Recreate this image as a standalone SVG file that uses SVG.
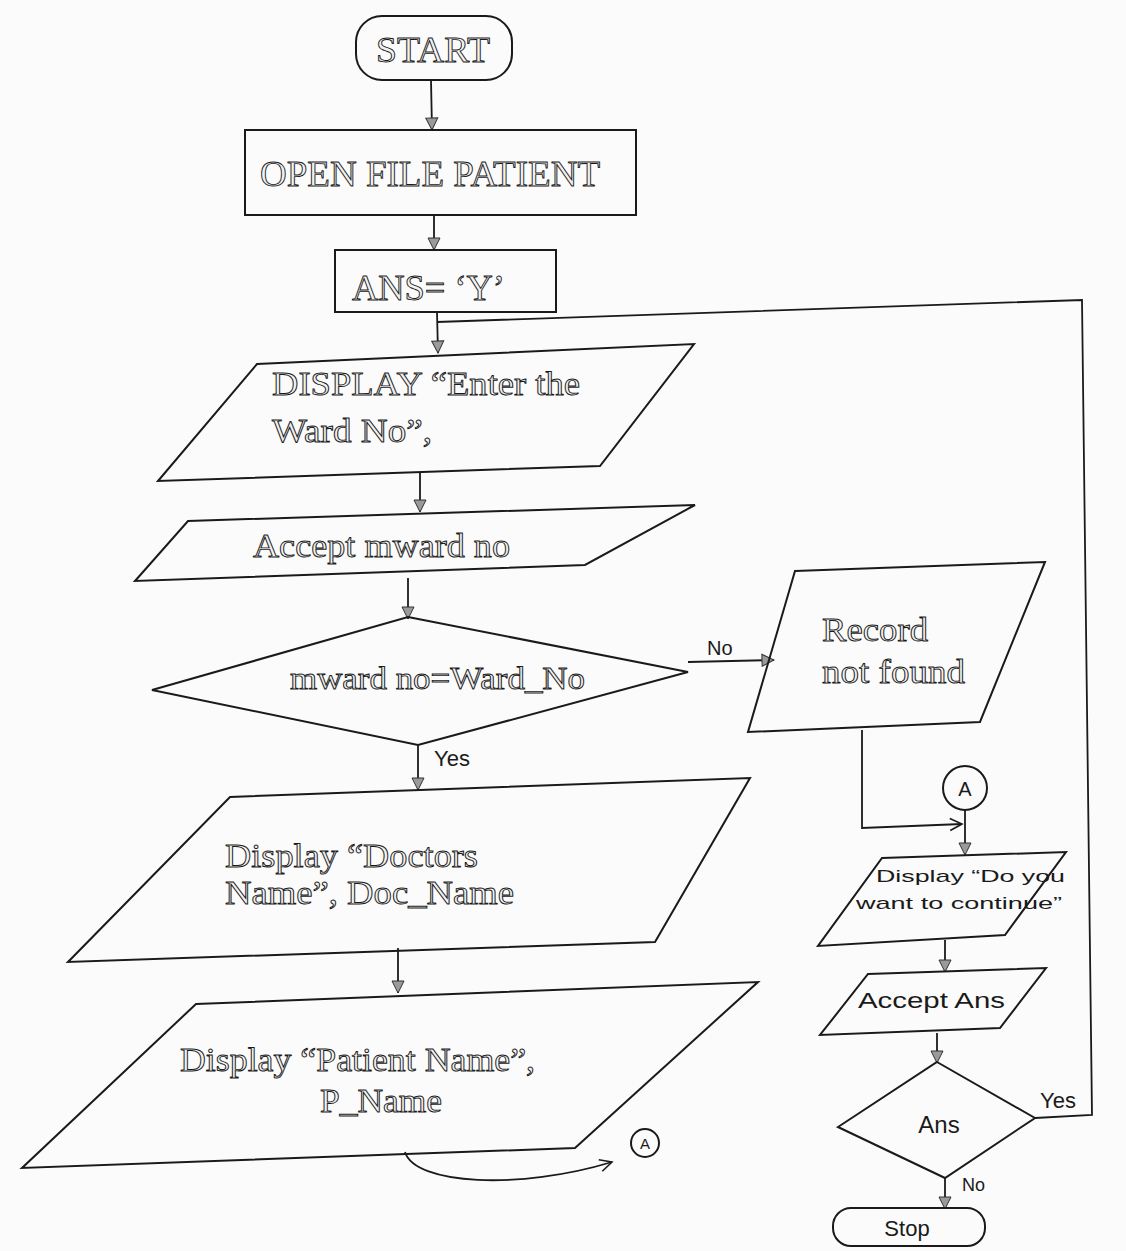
<svg xmlns="http://www.w3.org/2000/svg" width="1126" height="1251" viewBox="0 0 1126 1251">
<style>
.shape{fill:none;stroke:#1a1a1a;stroke-width:2}
.line{fill:none;stroke:#1a1a1a;stroke-width:1.8}
.serif{font-family:"Liberation Serif","Times New Roman",serif;fill:#f2f2f2;stroke:#1a1a1a;stroke-width:0.9}
.hand{font-family:"Liberation Sans","DejaVu Sans",sans-serif;fill:#1a1a1a}
</style>
<defs>
<marker id="tri" viewBox="0 0 14 14" refX="13" refY="7" markerWidth="14" markerHeight="14" markerUnits="userSpaceOnUse" orient="auto">
<path d="M1,1 L13,7 L1,13 Z" fill="#9a9a9a" stroke="#333" stroke-width="1"/>
</marker>
<marker id="open" viewBox="0 0 16 16" refX="14" refY="8" markerWidth="16" markerHeight="16" markerUnits="userSpaceOnUse" orient="auto">
<path d="M2,2 L14,8 L2,14" fill="none" stroke="#1a1a1a" stroke-width="1.6"/>
</marker>
</defs>
<rect width="1126" height="1251" fill="#fbfbfb"/>

<g id="connectors">
<line class="line" x1="431" y1="80" x2="432" y2="130" marker-end="url(#tri)"/>
<line class="line" x1="434" y1="215" x2="434" y2="250" marker-end="url(#tri)"/>
<line class="line" x1="437" y1="312" x2="438" y2="353" marker-end="url(#tri)"/>
<polyline class="line" points="1035,1118 1092,1115 1082,300 437,322"/>
<line class="line" x1="420" y1="472" x2="420" y2="512" marker-end="url(#tri)"/>
<line class="line" x1="408" y1="578" x2="408" y2="619" marker-end="url(#tri)"/>
<line class="line" x1="418" y1="745" x2="418" y2="790" marker-end="url(#tri)"/>
<line class="line" x1="688" y1="662" x2="774" y2="660" marker-end="url(#tri)"/>
<polyline class="line" points="862,730 862,828 962,824" marker-end="url(#open)"/>
<line class="line" x1="965" y1="810" x2="965" y2="855" marker-end="url(#tri)"/>
<line class="line" x1="945" y1="940" x2="945" y2="972" marker-end="url(#tri)"/>
<line class="line" x1="937" y1="1033" x2="937" y2="1063" marker-end="url(#tri)"/>
<line class="line" x1="945" y1="1178" x2="945" y2="1209" marker-end="url(#tri)"/>
<line class="line" x1="398" y1="948" x2="398" y2="993" marker-end="url(#tri)"/>
<path class="line" d="M405,1152 C415,1185 520,1190 612,1162" marker-end="url(#open)"/>
<text class="hand" x="707" y="655" font-size="20">No</text>
<text class="hand" x="434" y="766" font-size="22">Yes</text>
<text class="hand" x="1040" y="1108" font-size="22">Yes</text>
<text class="hand" x="962" y="1191" font-size="18">No</text>
</g>

<g id="start">
<rect class="shape" x="356" y="16" width="156" height="64" rx="26"/>
<text class="serif" x="433" y="62" font-size="36" text-anchor="middle" textLength="114" lengthAdjust="spacingAndGlyphs">START</text>
</g>

<g id="open-file">
<rect class="shape" x="245" y="130" width="391" height="85"/>
<text class="serif" x="260" y="186" font-size="36" textLength="340" lengthAdjust="spacingAndGlyphs">OPEN FILE PATIENT</text>
</g>

<g id="ans-init">
<rect class="shape" x="335" y="250" width="221" height="62"/>
<text class="serif" x="352" y="300" font-size="36" textLength="153" lengthAdjust="spacingAndGlyphs">ANS= ‘Y’</text>
</g>

<g id="display-ward">
<polygon class="shape" points="257,364 694,344 600,466 158,481"/>
<text class="serif" x="272" y="395" font-size="33" textLength="308" lengthAdjust="spacingAndGlyphs">DISPLAY “Enter the</text>
<text class="serif" x="272" y="442" font-size="33" textLength="160" lengthAdjust="spacingAndGlyphs">Ward No”,</text>
</g>

<g id="accept-ward">
<polygon class="shape" points="188,521 695,505 585,565 135,581"/>
<text class="serif" x="253" y="557" font-size="33" textLength="257" lengthAdjust="spacingAndGlyphs">Accept mward no</text>
</g>

<g id="decision-ward">
<polygon class="shape" points="408,617 688,672 418,745 152,690"/>
<text class="serif" x="290" y="689" font-size="31" textLength="295" lengthAdjust="spacingAndGlyphs">mward no=Ward_No</text>
</g>

<g id="record-not-found">
<polygon class="shape" points="795,571 1045,562 980,722 748,732"/>
<text class="serif" x="822" y="641" font-size="33" textLength="106" lengthAdjust="spacingAndGlyphs">Record</text>
<text class="serif" x="822" y="683" font-size="33" textLength="143" lengthAdjust="spacingAndGlyphs">not found</text>
</g>

<g id="connector-a-right">
<circle class="shape" cx="965" cy="788" r="22"/>
<text class="hand" x="965" y="796" font-size="20" text-anchor="middle">A</text>
</g>

<g id="display-continue">
<polygon class="shape" points="882,858 1066,852 1005,935 818,946"/>
<text class="hand" x="876" y="882" font-size="17" textLength="189" lengthAdjust="spacingAndGlyphs">Display “Do you</text>
<text class="hand" x="856" y="909" font-size="17" textLength="206" lengthAdjust="spacingAndGlyphs">want to continue”</text>
</g>

<g id="accept-ans">
<polygon class="shape" points="868,974 1046,968 1000,1028 820,1035"/>
<text class="hand" x="858" y="1008" font-size="22" textLength="147" lengthAdjust="spacingAndGlyphs">Accept Ans</text>
</g>

<g id="decision-ans">
<polygon class="shape" points="937,1062 1035,1118 945,1178 838,1127"/>
<text class="hand" x="939" y="1133" font-size="24" text-anchor="middle">Ans</text>
</g>

<g id="stop">
<rect class="shape" x="833" y="1208" width="152" height="38" rx="18"/>
<text class="hand" x="907" y="1236" font-size="22" text-anchor="middle">Stop</text>
</g>

<g id="display-doctors">
<polygon class="shape" points="230,797 750,778 655,942 68,962"/>
<text class="serif" x="225" y="867" font-size="33" textLength="253" lengthAdjust="spacingAndGlyphs">Display “Doctors</text>
<text class="serif" x="225" y="904" font-size="33" textLength="289" lengthAdjust="spacingAndGlyphs">Name”, Doc_Name</text>
</g>

<g id="display-patient">
<polygon class="shape" points="196,1004 758,982 575,1148 22,1168"/>
<text class="serif" x="180" y="1071" font-size="33" textLength="355" lengthAdjust="spacingAndGlyphs">Display “Patient Name”,</text>
<text class="serif" x="320" y="1112" font-size="33" textLength="122" lengthAdjust="spacingAndGlyphs">P_Name</text>
</g>

<g id="connector-a-left">
<circle class="shape" cx="645" cy="1143" r="14"/>
<text class="hand" x="645" y="1149" font-size="15" text-anchor="middle">A</text>
</g>
</svg>
